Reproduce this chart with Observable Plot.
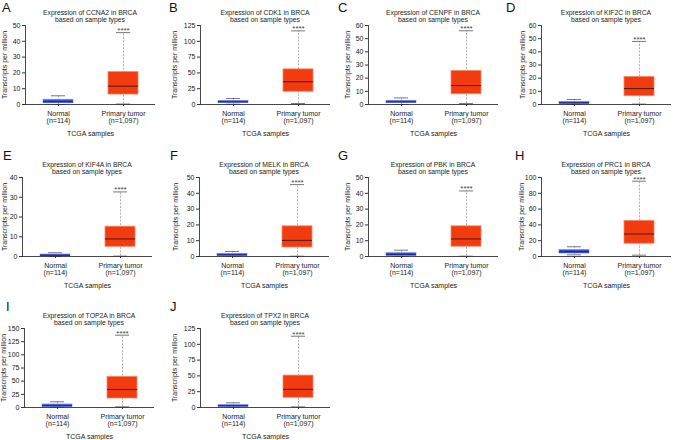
<!DOCTYPE html>
<html>
<head>
<meta charset="utf-8">
<script src="https://cdn.jsdelivr.net/npm/d3@7"></script>
<script src="https://cdn.jsdelivr.net/npm/@observablehq/plot@0.6"></script>
<style>
  body { margin: 0; background: #fff; }
  #root { position: relative; width: 674px; height: 440px; overflow: hidden; background: #fff;
          font-family: "Liberation Sans", Arial, sans-serif; color: #222; }
  .panel { position: absolute; width: 168px; height: 150px; }
  .letter { position: absolute; font-size: 13px; line-height: 13px; color: #111; }
  .title { position: absolute; width: 130px; text-align: center; font-size: 6.8px; line-height: 7px; white-space: nowrap; color: #222; }
  .panel svg { position: absolute; left: 0; top: 0; overflow: visible; }
</style>
</head>
<body>
<div id="root"></div>
<script>
// ---- data ----
const genes = ["CCNA2", "CDK1", "CENPF", "KIF2C", "KIF4A", "MELK", "PBK", "PRC1", "TOP2A", "TPX2"];
const letters = ["A", "B", "C", "D", "E", "F", "G", "H", "I", "J"];
const groups = ["Normal", "Primary tumor"];
const groupN = ["(n=114)", "(n=1,097)"];
const yMax = [50, 125, 60, 60, 40, 50, 50, 100, 150, 125];
const yTicks = [
  [0, 10, 20, 30, 40, 50],
  [0, 25, 50, 75, 100, 125],
  [0, 10, 20, 30, 40, 50, 60],
  [0, 10, 20, 30, 40, 50, 60],
  [0, 10, 20, 30, 40],
  [0, 10, 20, 30, 40, 50],
  [0, 10, 20, 30, 40, 50],
  [0, 20, 40, 60, 80, 100],
  [0, 25, 50, 75, 100, 125, 150],
  [0, 25, 50, 75, 100, 125]
];
// [min, q1, median, q3, max]
const normalStats = [
  [0, 0.8, 1.7, 3.0, 5.5],
  [0.5, 2.6, 4.2, 5.8, 9.5],
  [0, 1.3, 2.0, 2.8, 5.0],
  [0, 0.5, 1.2, 2.0, 3.8],
  [0, 0.3, 0.6, 1.0, 1.9],
  [0, 0.4, 1.0, 1.7, 3.2],
  [0, 0.4, 1.2, 2.1, 4.0],
  [2.1, 3.8, 6.0, 8.1, 12.3],
  [0.5, 1.3, 3.2, 5.7, 10.8],
  [0.3, 1.1, 2.7, 3.7, 7.4]
];
const tumorStats = [
  [0.3, 6.3, 11.6, 20.5, 45.5],
  [1.6, 20.1, 36, 55.6, 116.5],
  [0.8, 7.8, 14.4, 25.5, 56],
  [0.3, 6.3, 12.1, 20.9, 47.9],
  [0.2, 4.9, 8.9, 15.1, 32.7],
  [0.2, 5.7, 10.2, 19.1, 45.5],
  [0.2, 6.2, 11.1, 19.1, 41.5],
  [1.7, 16.2, 28.5, 45.1, 95.3],
  [1.3, 17.1, 34.2, 58.2, 137.3],
  [1.0, 15.4, 28.7, 50.5, 112.8]
];
const signif = "****";

// ---- layout ----
const rowTop = [0, 152, 303];
const axisLeft = [25, 32, 32, 37, 22, 31, 32, 37, 24, 32];
const yLabelDist = [20, 25, 20, 18, 16.5, 23, 20, 19, 19.5, 25];
const letterX = [2, 1, 2, 2, 3, 2, 2, 11, 6, 2];
const plotW = 130, panelW = 168, panelH = 145;

const root = document.getElementById("root");
const font = '"Liberation Sans", Arial, sans-serif';

genes.forEach((gene, i) => {
  const row = Math.floor(i / 4), col = i % 4;
  const panel = document.createElement("div");
  panel.className = "panel";
  panel.style.left = (col * panelW) + "px";
  panel.style.top = rowTop[row] + "px";
  root.appendChild(panel);

  const rows = groups.map((g, j) => {
    const s = j === 0 ? normalStats[i] : tumorStats[i];
    return {group: g, n: groupN[j], min: s[0], q1: s[1], med: s[2], q3: s[3], max: s[4]};
  });
  const normal = rows.filter(d => d.group === groups[0]);
  const tumor = rows.filter(d => d.group === groups[1]);
  const ml = axisLeft[i];

  const chart = Plot.plot({
    width: panelW,
    height: panelH,
    marginTop: 25,
    marginBottom: 41,
    marginLeft: ml,
    marginRight: panelW - ml - plotW,
    style: {fontFamily: font, fontSize: "7px", color: "#222", background: "transparent", overflow: "visible"},
    x: {type: "band", domain: groups, paddingInner: 0.54, paddingOuter: 0.27},
    y: {domain: [0, yMax[i]]},
    marks: [
      Plot.ruleX(rows, {x: "group", y1: "min", y2: "max", stroke: "#9c9c9c", strokeWidth: 0.8, strokeDasharray: "2,1.4"}),
      Plot.tickY(rows, {x: "group", y: "max", stroke: "#555", strokeWidth: 0.8, insetLeft: 8, insetRight: 8}),
      Plot.tickY(rows, {x: "group", y: "min", stroke: "#555", strokeWidth: 0.8, insetLeft: 8, insetRight: 8}),
      Plot.barY(normal, {x: "group", y1: "q1", y2: "q3", fill: "#3a4fd9", stroke: "#7686ea", strokeWidth: 0.7}),
      Plot.barY(tumor, {x: "group", y1: "q1", y2: "q3", fill: "#f23c10", stroke: "#f8866a", strokeWidth: 0.8}),
      Plot.tickY(normal, {x: "group", y: "med", stroke: "#17238a", strokeWidth: 1.1}),
      Plot.tickY(tumor, {x: "group", y: "med", stroke: "#5e1a0c", strokeWidth: 1.1}),
      Plot.text(tumor, {x: "group", y: "max", text: () => signif, dy: -2, lineAnchor: "middle", fontSize: 8, fill: "#444"}),
      Plot.ruleY([0], {stroke: "#333", strokeWidth: 0.9}),
      Plot.frame({anchor: "left", stroke: "#333", strokeWidth: 0.9}),
      Plot.axisY({
        ticks: yTicks[i], tickSize: 3, tickPadding: 2, stroke: "#333", fill: "#222",
        label: "Transcripts per million", labelAnchor: "center", labelArrow: "none",
        labelOffset: yLabelDist[i] + 3.5
      }),
      Plot.axisX({
        tickSize: 2, tickPadding: 5, stroke: "#333", fill: "#222", lineHeight: 1,
        tickFormat: (d) => d + "\n" + groupN[groups.indexOf(d)],
        label: "TCGA samples", labelAnchor: "center", labelArrow: "none", labelOffset: 31
      })
    ]
  });
  panel.appendChild(chart);

  const letter = document.createElement("div");
  letter.className = "letter";
  letter.textContent = letters[i];
  letter.style.left = letterX[i] + "px";
  letter.style.top = (row === 0 ? 1 : -3.5) + "px";
  panel.appendChild(letter);

  const title = document.createElement("div");
  title.className = "title";
  title.style.left = ml + "px";
  title.style.top = "9px";
  title.innerHTML = "Expression of " + gene + " in BRCA<br>based on sample types";
  panel.appendChild(title);
});
</script>
</body>
</html>
